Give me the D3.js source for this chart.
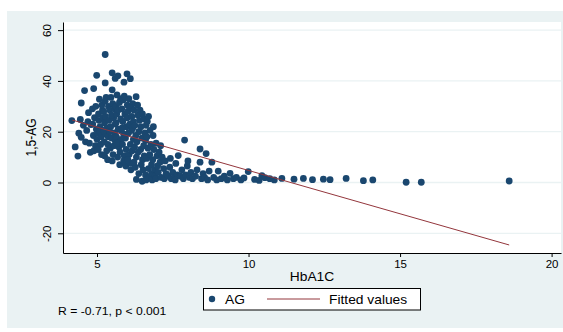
<!DOCTYPE html>
<html>
<head>
<meta charset="utf-8">
<script src="https://cdn.jsdelivr.net/npm/d3@7"></script>
<style>
  body { margin: 0; background: #fff; }
  svg { display: block; font-family: "Liberation Sans", Arial, sans-serif; }
</style>
</head>
<body>
<svg id="chart" width="563" height="332"></svg>
<script>
// HbA1C (x) vs 1,5-AG (y)
const agPoints = [
  [4.17,24.4],[4.28,14.0],[4.37,10.4],[4.40,19.4],[4.48,17.8],[4.48,31.3],[4.45,24.8],
  [4.59,36.2],[4.55,22.5],[4.62,16.0],[4.70,24.0],[4.66,20.5],[4.78,11.9],[4.75,15.5],[4.72,27.5],[4.80,22.8],
  [4.89,37.0],[4.99,42.2],[4.85,29.0],[4.88,18.5],[4.92,25.5],[4.95,14.5],[4.98,21.0],[4.90,12.5],[4.96,30.0],[5.00,17.0],[4.86,23.0],
  [5.08,32.8],[5.05,27.0],[5.10,22.0],[5.02,19.5],[5.12,15.0],[5.15,11.0],[5.06,24.5],[5.18,28.5],[5.14,18.0],[5.20,25.5],[5.04,13.0],[5.16,30.5],[5.10,20.0],
  [5.27,50.4],[5.27,39.2],[5.27,32.0],[5.22,28.0],[5.25,23.5],[5.30,19.0],[5.24,16.0],[5.32,12.5],[5.35,9.0],[5.28,26.0],[5.38,30.0],[5.33,21.5],[5.36,15.0],[5.22,20.5],[5.40,24.5],[5.30,33.5],[5.37,18.0],[5.25,10.5],
  [5.50,43.2],[5.50,36.5],[5.60,41.0],[5.42,28.5],[5.45,22.0],[5.48,17.5],[5.44,13.5],[5.50,8.5],[5.52,31.0],[5.55,25.5],[5.58,19.5],[5.56,14.5],[5.46,33.5],[5.60,23.0],[5.53,11.0],[5.58,29.0],[5.42,20.0],[5.60,16.5],[5.48,26.5],
  [5.66,34.5],[5.69,42.0],[5.62,30.0],[5.65,27.0],[5.70,21.0],[5.64,18.0],[5.72,14.0],[5.68,10.0],[5.75,7.0],[5.78,25.0],[5.74,31.5],[5.80,17.0],[5.76,12.0],[5.63,23.5],[5.70,28.5],[5.80,20.5],[5.66,15.5],[5.78,33.0],
  [5.89,39.5],[5.99,42.8],[5.82,29.0],[5.85,24.0],[5.88,19.0],[5.84,15.0],[5.90,10.5],[5.95,6.5],[5.92,27.0],[5.98,22.0],[5.86,32.5],[5.94,17.5],[5.96,13.0],[6.00,30.5],[5.83,21.5],[5.90,34.0],[6.00,25.5],[5.88,8.5],
  [6.10,40.9],[6.05,33.0],[6.02,28.0],[6.08,23.0],[6.04,19.5],[6.10,15.0],[6.06,11.0],[6.12,7.5],[6.15,26.0],[6.18,31.0],[6.14,20.5],[6.20,17.0],[6.16,12.5],[6.02,9.0],[6.20,24.0],[6.08,29.5],[6.12,5.0],[6.18,21.5],
  [6.29,33.8],[6.22,28.5],[6.25,22.5],[6.28,18.5],[6.24,14.0],[6.30,10.0],[6.26,6.0],[6.35,26.5],[6.38,20.0],[6.32,16.0],[6.36,12.0],[6.40,24.5],[6.34,30.5],[6.22,8.0],[6.38,3.5],[6.30,1.2],
  [6.49,0.5],[6.42,28.5],[6.45,22.0],[6.48,17.5],[6.44,13.0],[6.50,9.0],[6.52,5.0],[6.55,25.0],[6.58,19.5],[6.54,14.5],[6.56,10.5],[6.60,3.0],[6.46,7.0],[6.50,27.0],[6.60,16.5],
  [6.62,22.5],[6.65,18.0],[6.68,13.5],[6.64,9.5],[6.70,5.5],[6.72,2.0],[6.75,20.5],[6.78,15.0],[6.74,11.0],[6.80,7.0],[6.66,24.0],[6.70,26.0],[6.62,1.0],[6.80,3.5],
  [6.82,1.0],[6.85,18.5],[6.88,13.0],[6.84,9.0],[6.90,5.0],[6.92,2.5],[6.95,15.5],[6.98,10.5],[6.86,22.0],[7.00,6.5],[6.94,1.5],
  [7.05,12.0],[7.08,8.0],[7.02,4.0],[7.12,2.0],[7.15,10.0],[7.20,5.5],[7.22,1.5],[7.28,3.5],[7.10,14.5],[7.25,8.5],
  [7.35,2.5],[7.40,6.0],[7.45,1.5],[7.50,4.0],[7.55,2.0],[7.60,7.5],[7.68,10.6],[7.65,3.0],[7.42,9.5],[7.58,1.0],
  [7.89,16.7],[7.75,2.5],[7.80,5.0],[7.85,1.5],[7.92,3.0],[7.98,6.5],[8.05,2.0],[8.10,4.0],[8.15,1.5],[8.00,8.5],
  [8.40,13.2],[8.60,11.4],[8.40,8.0],[8.79,8.0],[8.25,2.5],[8.30,5.0],[8.45,1.5],[8.50,3.5],[8.55,2.0],[8.65,1.0],[8.70,4.5],[8.85,2.0],[8.95,1.0],
  [9.00,4.5],[9.39,3.6],[9.99,4.3],[9.10,1.5],[9.20,2.5],[9.30,1.0],[9.50,1.5],[9.60,2.0],[9.75,1.0],[9.85,1.8],
  [10.44,2.7],[10.54,1.9],[10.20,1.2],[10.35,0.8],[10.70,1.5],[10.85,1.0],[11.10,1.6],[11.50,1.3],[11.81,1.6],[12.11,1.1],
  [12.47,1.3],[12.69,1.1],[13.22,1.6],[13.79,0.7],[14.10,1.0],[15.20,0.1],[15.70,0.1],[18.60,0.6]
];
const fittedLine = [[4.18, 24.6], [18.6, -24.6]];
const xTicks = [5, 10, 15, 20];
const yTicks = [-20, 0, 20, 40, 60];
const legendLabels = ["AG", "Fitted values"];
const xTitle = "HbA1C";
const yTitle = "1,5-AG";
const noteText = "R = -0.71, p < 0.001";

const svg = d3.select("#chart");
const plot = { left: 63, right: 561, top: 22, bottom: 253 };
const navy = "#1a476f", maroon = "#93363c", bg = "#eaf2f3";

// outer graph region + white plot region
svg.append("rect").attr("x", 7).attr("y", 11).attr("width", 556).attr("height", 317).attr("fill", bg);
svg.append("rect").attr("x", plot.left).attr("y", plot.top)
  .attr("width", plot.right - plot.left).attr("height", plot.bottom - plot.top).attr("fill", "#fff");

const x = d3.scaleLinear().domain([3.878, 20.31]).range([plot.left, plot.right]);
const y = d3.scaleLinear().domain([-27.76, 63.2]).range([plot.bottom, plot.top]);

// horizontal grid
svg.append("g").selectAll("line").data(yTicks).enter().append("line")
  .attr("x1", plot.left).attr("x2", plot.right)
  .attr("y1", d => y(d)).attr("y2", d => y(d))
  .attr("stroke", bg).attr("stroke-width", 1.3);

// scatter
svg.append("g").selectAll("circle").data(agPoints).enter().append("circle")
  .attr("cx", d => x(d[0])).attr("cy", d => y(d[1])).attr("r", 3.4)
  .attr("fill", navy);

// fitted line
svg.append("path").datum(fittedLine)
  .attr("d", d3.line().x(d => x(d[0])).y(d => y(d[1])))
  .attr("fill", "none").attr("stroke", maroon).attr("stroke-width", 1);

// axes (plain hyphen for negatives, like the original)
const plain = d => String(d);
const xAxis = svg.append("g").attr("transform", `translate(0,${plot.bottom})`)
  .call(d3.axisBottom(x).tickValues(xTicks).tickFormat(plain).tickSize(4).tickSizeOuter(0).tickPadding(3));
const yAxis = svg.append("g").attr("transform", `translate(${plot.left},0)`)
  .call(d3.axisLeft(y).tickValues(yTicks).tickFormat(plain).tickSize(5).tickSizeOuter(0));

[xAxis, yAxis].forEach(a => {
  a.select(".domain").attr("stroke", "#000");
  a.selectAll(".tick line").attr("stroke", "#000");
  a.selectAll("text").attr("fill", "#000").style("font-size", "11.5px")
    .style("font-family", "'Liberation Sans', Arial, sans-serif");
});
yAxis.selectAll(".tick text")
  .attr("transform", "rotate(-90)").attr("x", 0).attr("y", -12).attr("dy", 0)
  .attr("text-anchor", "middle");

// axis titles
const txt = (s, tx, ty, size, extra) => svg.append("text")
  .attr("transform", `translate(${tx},${ty}) scale(1.15,1)` + (extra || ""))
  .attr("font-size", size).attr("fill", "#000").text(s);

txt(xTitle, (plot.left + plot.right) / 2, 281, 12).attr("text-anchor", "middle");
txt(yTitle, 36, (plot.top + plot.bottom) / 2, 12, " rotate(-90)").attr("text-anchor", "middle");

// legend
const lg = svg.append("g");
lg.append("rect").attr("x", 203.5).attr("y", 288.5).attr("width", 217).attr("height", 21.5)
  .attr("fill", "#fff").attr("stroke", "#000").attr("stroke-width", 1);
lg.append("circle").attr("cx", 212).attr("cy", 299).attr("r", 3.2).attr("fill", navy);
lg.append("line").attr("x1", 267).attr("x2", 320).attr("y1", 299).attr("y2", 299)
  .attr("stroke", maroon).attr("stroke-width", 1);
txt(legendLabels[0], 225, 304, 12);
txt(legendLabels[1], 329, 304, 12);

// note
txt(noteText, 58, 315, 10).attr("transform", "translate(58,315) scale(1.22,1)");
</script>
</body>
</html>
